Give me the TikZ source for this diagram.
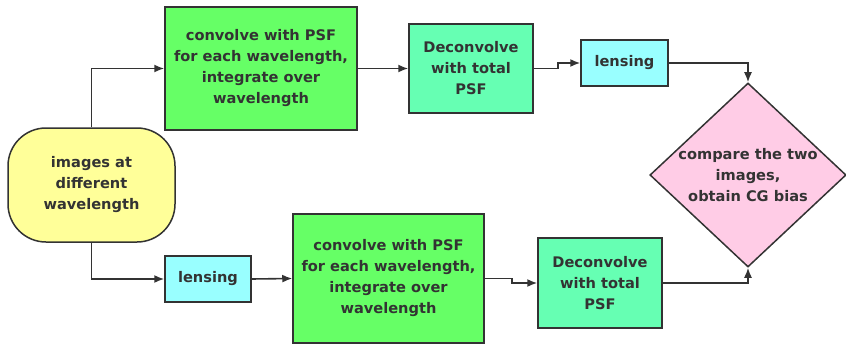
\documentclass[tikz,border=0pt]{standalone}
\usepackage{fontspec}
\setmainfont{DejaVu Sans}
\usetikzlibrary{shapes.geometric,arrows.meta}
\definecolor{edge}{HTML}{333333}
\definecolor{txt}{HTML}{333333}
\definecolor{cgreen}{HTML}{66FF66}
\definecolor{caqua}{HTML}{66FFB3}
\definecolor{ccyan}{HTML}{99FFFF}
\definecolor{cyellow}{HTML}{FFFF99}
\definecolor{cpink}{HTML}{FFCCE6}
\tikzset{
  box/.style={draw=edge, line width=1.5pt, rectangle, inner sep=0pt, align=center, text=txt,
    font=\bfseries\fontsize{14.6}{21}\selectfont},
  conn/.style={draw=edge, line width=1.6pt, -{Latex[length=10pt,width=8pt]}},
}
\begin{document}
\begin{tikzpicture}[x=1pt,y=-1pt]
\useasboundingbox (0,0) rectangle (846,345);
\node[box, fill=cyellow, rounded corners=38pt, minimum width=167pt, minimum height=114pt] (img) at (91.5,185) {images at\\different\\wavelength};
\node[box, fill=cgreen, minimum width=192pt, minimum height=123pt] (c1) at (261,68.5) {convolve with PSF\\for each wavelength,\\integrate over\\wavelength};
\node[box, fill=caqua, minimum width=124pt, minimum height=89pt] (d1) at (471,68.5) {Deconvolve\\with total\\PSF};
\node[box, fill=ccyan, minimum width=87pt, minimum height=46pt] (l1) at (624.5,63) {lensing};
\node[box, fill=ccyan, minimum width=86pt, minimum height=46pt] (l2) at (208,279) {lensing};
\node[box, fill=cgreen, minimum width=191pt, minimum height=129pt] (c2) at (388.5,278.5) {convolve with PSF\\for each wavelength,\\integrate over\\wavelength};
\node[box, fill=caqua, minimum width=124pt, minimum height=90pt] (d2) at (600,283) {Deconvolve\\with total\\PSF};
\node[box, diamond, fill=cpink, minimum width=195pt, minimum height=184pt, aspect=1.07] (cmp) at (748,175) {compare the two\\images,\\obtain CG bias};
\draw[conn] (img.north) |- (c1.west);
\draw[conn] (img.south) |- (l2.west);
\draw[conn] (c1.east) -- (d1.west);
\draw[conn] (d1.east) -- ++(24,0) |- (l1.west);
\draw[conn] (l1.east) -| (cmp.north);
\draw[conn] (l2.east) -- (c2.west);
\draw[conn] (c2.east) -- ++(27,0) |- (d2.west);
\draw[conn] (d2.east) -| (cmp.south);
\end{tikzpicture}
\end{document}
